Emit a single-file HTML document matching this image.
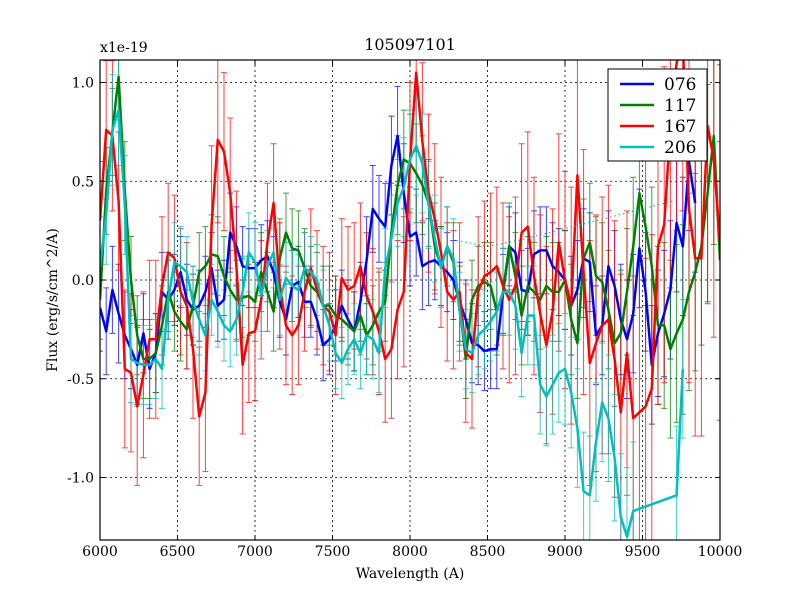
<!DOCTYPE html>
<html><head><meta charset="utf-8"><style>
body{margin:0;background:#fff;}
svg text{font-family:"DejaVu Serif","Liberation Serif",serif;}
</style></head><body>
<svg id="chart" width="800" height="600" xmlns="http://www.w3.org/2000/svg">
<rect width="800" height="600" fill="#fff"/>
<defs><clipPath id="pc"><rect x="100" y="60" width="620" height="480"/></clipPath></defs>
<g id="grid"></g>
<g id="bars" clip-path="url(#pc)"></g>
<g id="lines" clip-path="url(#pc)"></g>
<rect x="100" y="60" width="620" height="480" fill="none" stroke="#000" stroke-width="1.2"/>
<g id="ticks"></g>
<text x="410" y="50" text-anchor="middle" font-size="16">105097101</text>
<text x="100" y="52" font-size="14">x1e-19</text>
<text x="410" y="578" text-anchor="middle" font-size="14">Wavelength (A)</text>
<text transform="translate(57,300) rotate(-90)" text-anchor="middle" font-size="14">Flux (erg/s/cm^2/A)</text>
<g id="legend"></g>
</svg>
<script>
const xTicks=[6000,6500,7000,7500,8000,8500,9000,9500,10000];
const yTicks=[-1.0,-0.5,0.0,0.5,1.0];
const yTickLabels=["-1.0","-0.5","0.0","0.5","1.0"];
const seriesNames=["076","117","167","206"];
const seriesColors=["#0000ff","#008000","#ff0000","#00bfbf"];
const wavelengths=[6000,6040,6080,6120,6160,6200,6240,6280,6320,6360,6400,6440,6480,6520,6560,6600,6640,6680,6720,6760,6800,6840,6880,6920,6960,7000,7040,7080,7120,7160,7200,7240,7280,7320,7360,7400,7440,7480,7520,7560,7600,7640,7680,7720,7760,7800,7840,7880,7920,7960,8000,8040,8080,8120,8160,8200,8240,8280,8320,8360,8400,8440,8480,8520,8560,8600,8640,8680,8720,8760,8800,8840,8880,8920,8960,9000,9040,9080,9120,9160,9200,9240,9280,9320,9360,9400,9440,9480,9520,9560,9600,9640,9680,9720,9760,9800,9840,9880,9920,9960,10000];
const flux076=[-0.14,-0.26,-0.05,-0.17,-0.28,-0.35,-0.43,-0.27,-0.45,-0.37,-0.06,-0.1,-0.05,0.04,-0.1,-0.15,-0.13,-0.06,0.06,-0.13,-0.1,0.24,0.17,0.07,0.06,0.06,
0.1,0.12,0.04,-0.11,-0.2,-0.03,-0.01,-0.11,-0.11,-0.2,-0.33,-0.3,-0.23,-0.13,-0.2,-0.26,-0.11,0.1,0.36,0.31,0.27,0.58,0.73,0.44,0.22,
0.24,0.07,0.09,0.1,0.07,0.04,0.0,-0.11,-0.2,-0.32,-0.33,-0.36,-0.35,-0.35,-0.07,0.17,0.14,-0.05,-0.06,0.13,0.15,0.15,0.07,0.04,0.0,
-0.13,-0.05,0.11,0.09,-0.28,-0.23,0.07,-0.03,-0.2,-0.3,-0.17,0.16,-0.06,-0.43,-0.27,-0.17,-0.05,0.29,0.17,0.6,0.39,null,null,null,null];
const flux117=[-0.1,0.45,0.75,1.03,0.45,0.0,-0.28,-0.4,-0.4,-0.37,-0.23,-0.06,-0.16,-0.21,-0.25,-0.13,0.04,0.07,0.13,0.12,0.02,-0.05,-0.1,-0.09,-0.08,-0.11,
0.04,-0.06,-0.16,0.11,0.24,0.16,0.15,0.06,-0.03,-0.06,-0.13,-0.13,-0.18,-0.2,-0.23,-0.26,-0.18,-0.28,-0.23,-0.16,-0.11,0.24,0.48,0.61,0.59,
0.54,0.48,0.39,0.17,0.07,0.17,0.09,-0.13,-0.4,-0.1,-0.03,-0.01,-0.03,-0.16,-0.06,0.17,0.02,-0.18,-0.03,-0.06,-0.1,-0.03,-0.06,-0.06,0.0,
-0.2,-0.32,0.11,0.19,0.02,-0.01,-0.15,-0.32,-0.27,-0.06,0.17,0.44,0.27,0.07,-0.23,-0.23,-0.35,-0.27,-0.2,-0.06,0.04,0.17,0.44,0.73,0.1];
const flux167=[0.3,0.76,0.73,0.4,-0.45,-0.47,-0.64,-0.48,-0.3,-0.3,-0.03,0.14,0.11,-0.06,-0.13,-0.35,-0.69,-0.57,0.28,0.71,0.65,0.44,0.07,-0.43,-0.27,-0.26,
-0.1,0.19,0.39,-0.03,-0.23,-0.28,-0.23,-0.06,0.06,-0.05,-0.13,-0.16,-0.28,0.01,-0.05,-0.03,0.07,-0.08,-0.16,-0.26,-0.4,-0.35,-0.15,-0.06,0.6,
1.05,0.7,0.44,0.31,0.14,-0.06,-0.1,-0.06,-0.37,-0.4,-0.06,0.02,0.04,0.07,-0.03,-0.1,-0.03,0.24,0.27,0.02,-0.17,-0.33,-0.16,0.19,0.0,
-0.13,0.53,0.04,-0.42,-0.32,-0.23,-0.2,-0.4,-0.67,-0.37,-0.7,-0.67,-0.64,-0.55,0.17,0.28,0.78,1.1,1.2,0.36,0.11,0.11,0.78,0.61,0.19];
const flux206=[0.07,0.33,0.76,0.86,0.38,-0.4,-0.42,-0.43,-0.43,-0.4,-0.45,-0.1,0.09,0.07,0.04,-0.11,-0.2,-0.28,-0.1,-0.16,-0.23,-0.26,-0.2,-0.06,0.14,0.09,
-0.08,0.07,0.14,-0.1,0.01,-0.03,-0.05,0.06,0.04,0.0,-0.13,-0.23,-0.37,-0.42,-0.35,-0.3,-0.37,-0.28,-0.3,-0.37,0.06,0.21,0.39,0.47,0.61,
0.68,0.59,0.38,0.21,0.06,0.17,0.11,-0.16,-0.35,-0.37,-0.28,-0.25,-0.21,-0.16,-0.06,-0.06,-0.13,-0.37,-0.18,-0.18,-0.53,-0.59,-0.53,-0.47,-0.45,
-0.57,-0.75,-1.07,-1.09,-0.82,-0.62,-0.7,-0.9,-1.2,-1.3,-1.17,null,null,null,null,null,null,-1.09,-0.45,null,null,null,null,null,null];
const err076=[0.22,0.22,0.22,0.25,0.22,0.2,0.2,0.2,0.2,0.2,0.2,0.2,0.18,0.18,0.18,0.18,0.18,0.18,0.18,0.18,0.2,0.2,0.2,0.2,0.2,0.2,
0.18,0.18,0.18,0.18,0.18,0.18,0.18,0.18,0.18,0.18,0.18,0.18,0.18,0.18,0.2,0.2,0.2,0.22,0.22,0.22,0.22,0.25,0.25,0.25,0.25,
0.22,0.22,0.22,0.2,0.2,0.2,0.2,0.2,0.2,0.2,0.2,0.2,0.2,0.2,0.2,0.2,0.2,0.2,0.22,0.22,0.22,0.22,0.22,0.22,0.25,
0.25,0.25,0.25,0.25,0.25,0.25,0.28,0.28,0.28,0.3,0.3,0.3,0.3,0.3,0.32,0.32,0.35,0.35,0.35,0.35,0.35,0.35,0.35,0.35,0.35];
const err117=[0.2,0.22,0.22,0.22,0.25,0.22,0.2,0.2,0.2,0.2,0.2,0.2,0.2,0.2,0.2,0.2,0.2,0.2,0.2,0.2,0.2,0.2,0.2,0.2,0.2,0.2,
0.2,0.2,0.2,0.2,0.2,0.2,0.2,0.2,0.2,0.2,0.2,0.2,0.2,0.2,0.2,0.2,0.2,0.2,0.2,0.2,0.2,0.25,0.25,0.25,0.25,
0.25,0.25,0.22,0.22,0.2,0.2,0.2,0.2,0.2,0.2,0.2,0.2,0.22,0.22,0.22,0.22,0.22,0.25,0.25,0.25,0.25,0.25,0.25,0.25,0.25,
0.28,0.28,0.3,0.3,0.3,0.3,0.3,0.32,0.32,0.32,0.35,0.35,0.4,0.4,0.4,0.42,0.45,0.45,0.48,0.5,0.5,0.5,0.55,0.55,0.6];
const err167=[0.3,0.35,0.38,0.35,0.4,0.4,0.4,0.42,0.4,0.4,0.35,0.35,0.32,0.32,0.32,0.35,0.35,0.4,0.4,0.42,0.4,0.38,0.38,0.35,0.35,0.35,
0.3,0.3,0.3,0.32,0.3,0.3,0.3,0.3,0.3,0.3,0.3,0.3,0.3,0.3,0.32,0.32,0.32,0.32,0.32,0.32,0.32,0.35,0.35,0.38,0.4,
0.4,0.4,0.4,0.38,0.38,0.35,0.35,0.35,0.35,0.35,0.38,0.38,0.4,0.4,0.42,0.42,0.45,0.45,0.48,0.5,0.5,0.5,0.52,0.55,0.55,
0.6,0.6,0.62,0.62,0.65,0.65,0.68,0.7,0.7,0.72,0.72,0.75,0.75,0.78,0.8,0.8,0.82,0.85,0.85,0.88,0.9,0.9,0.9,0.9,0.9];
const err206=[0.25,0.25,0.28,0.28,0.25,0.22,0.22,0.2,0.2,0.2,0.2,0.2,0.2,0.2,0.18,0.18,0.18,0.18,0.18,0.18,0.18,0.18,0.18,0.18,0.2,0.2,
0.18,0.18,0.18,0.18,0.18,0.18,0.18,0.18,0.18,0.18,0.18,0.18,0.18,0.18,0.18,0.18,0.18,0.2,0.2,0.2,0.2,0.22,0.22,0.25,0.25,
0.25,0.25,0.22,0.22,0.2,0.2,0.2,0.2,0.2,0.2,0.2,0.2,0.2,0.2,0.22,0.22,0.22,0.22,0.25,0.25,0.25,0.25,0.25,0.25,0.28,
0.28,0.3,0.3,0.3,0.3,0.3,0.32,0.32,0.32,0.35,0.35,0.35,0.35,0.35,0.35,0.35,0.35,0.35,0.35,0.35,0.35,0.35,0.35,0.35,0.35];
const dotWave=[8300,8500,8700,8900,9100,9300,9500,9700];
const dotFlux=[0.2,0.17,0.2,0.24,0.28,0.32,0.36,0.4];
const NS="http://www.w3.org/2000/svg";
function xs(w){return 100+(w-6000)/4000*620;}
function ys(v){return 280-v*197.5;}
function mk(tag,attrs,parent){const e=document.createElementNS(NS,tag);for(const k in attrs)e.setAttribute(k,attrs[k]);parent.appendChild(e);return e;}
const grid=document.getElementById('grid'),ticks=document.getElementById('ticks');
xTicks.forEach(t=>{const x=xs(t);
 const g=mk('line',{x1:x,x2:x,y1:60,y2:540,stroke:'#000','stroke-dasharray':'2,3','stroke-width':0.8},grid);
 
 
 const tx=mk('text',{x:x,y:556,'text-anchor':'middle','font-size':14},ticks);
 tx.textContent=t;
 
 
 mk('line',{x1:x,x2:x,y1:540,y2:535,stroke:'#000'},ticks);mk('line',{x1:x,x2:x,y1:60,y2:65,stroke:'#000'},ticks);});
yTicks.forEach((t,i)=>{const y=ys(t);
 const g=mk('line',{x1:100,x2:720,y1:y,y2:y,stroke:'#000','stroke-dasharray':'2,3','stroke-width':0.8},grid);
 
 
 const tx=mk('text',{x:94,y:y+5,'text-anchor':'end','font-size':14},ticks);
 tx.textContent=yTickLabels[i];
 
 
 mk('line',{x1:100,x2:105,y1:y,y2:y,stroke:'#000'},ticks);mk('line',{x1:720,x2:715,y1:y,y2:y,stroke:'#000'},ticks);});
const fluxes=[flux076,flux117,flux167,flux206],errs=[err076,err117,err167,err206];
const bars=document.getElementById('bars'),lines=document.getElementById('lines');
fluxes.forEach((f,s)=>{const c=seriesColors[s];
 f.forEach((v,i)=>{if(v===null)return;const x=xs(wavelengths[i]),e=errs[s][i];
  const b=mk('path',{d:`M${x},${ys(v+e)}V${ys(v-e)}M${x-3},${ys(v+e)}h6M${x-3},${ys(v-e)}h6`,stroke:c,'stroke-width':1,'stroke-opacity':0.75,fill:'none'},bars);
  
  });
 const pts=[];f.forEach((v,i)=>{if(v!==null)pts.push(xs(wavelengths[i])+','+ys(v));});
 const p=mk('polyline',{points:pts.join(' '),stroke:c,'stroke-width':2.5,fill:'none','stroke-linejoin':'round'},lines);
 
 });
const dl=mk('polyline',{points:dotWave.map((w,i)=>xs(w)+','+ys(dotFlux[i])).join(' '),stroke:'#00bfbf','stroke-width':1.2,'stroke-dasharray':'1.5,3',fill:'none'},lines);


const lg=document.getElementById('legend');
mk('rect',{x:608,y:69,width:99,height:92,fill:'#fff',stroke:'#000','stroke-width':1},lg);
seriesNames.forEach((n,i)=>{const y=84+i*21;
 const l=mk('line',{x1:620,x2:654,y1:y,y2:y,stroke:seriesColors[i],'stroke-width':2.5},lg);
 
 
 const t=mk('text',{x:664,y:y+6,'font-size':17},lg);
 t.textContent=n;
 
 });
</script>
</body></html>
